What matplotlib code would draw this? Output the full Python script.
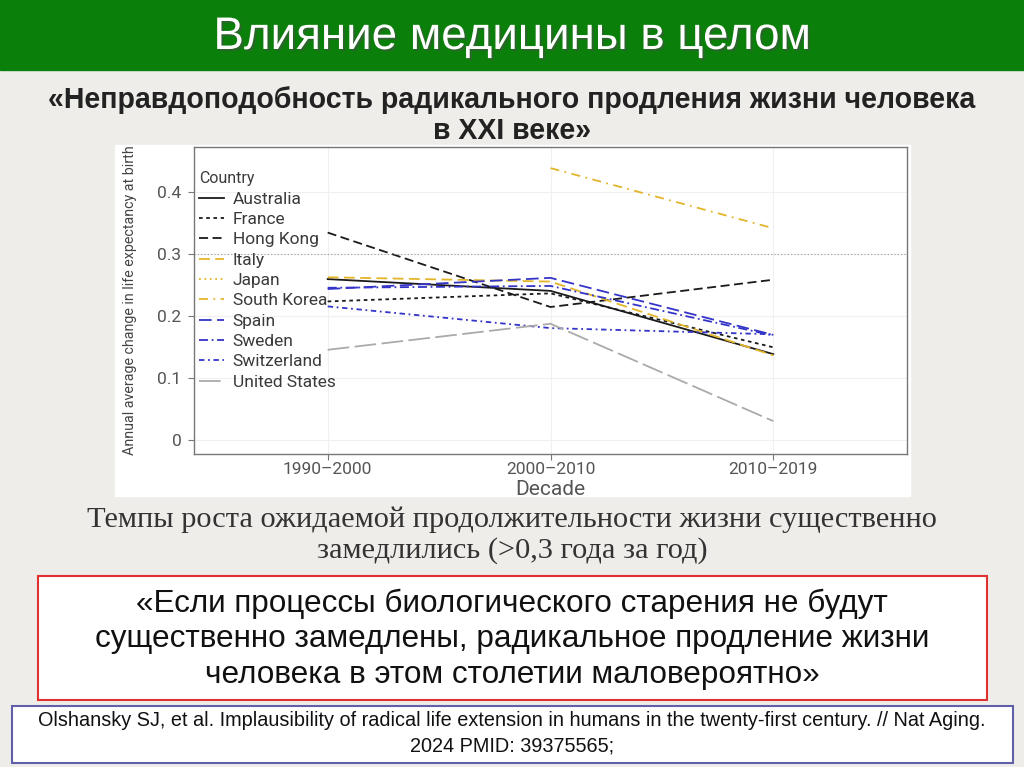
import matplotlib
matplotlib.use("Agg")
import matplotlib.pyplot as plt
import matplotlib.patheffects as pe
from matplotlib.patches import Rectangle
import numpy as np

plt.rcParams['font.family'] = ['Roboto', 'DejaVu Sans']

decades = ["1990–2000", "2000–2010", "2010–2019"]
countries = ["Australia", "France", "Hong Kong", "Italy", "Japan", "South Korea",
             "Spain", "Sweden", "Switzerland", "United States"]

australia = [0.259, 0.240, 0.138]
france = [0.223, 0.236, 0.149]
hong_kong = [0.334, 0.214, 0.258]
italy = [0.262, 0.255, 0.136]
japan = [np.nan, np.nan, np.nan]
south_korea = [np.nan, 0.438, 0.341]
spain = [0.243, 0.261, 0.169]
sweden = [0.245, 0.248, 0.168]
switzerland = [0.215, 0.180, 0.170]
united_states = [0.145, 0.187, 0.030]

series = [australia, france, hong_kong, italy, japan, south_korea,
          spain, sweden, switzerland, united_states]

black = "#1a1a1a"
gold = "#e3b52a"
blue = "#3434c8"
grey = "#aaaaaa"
styles = [
    (black, "-"),
    (black, (0, (2, 2))),
    (black, (0, (5, 2.5))),
    (gold, (0, (6, 3))),
    (gold, (0, (1, 2))),
    (gold, (0, (5, 3, 1, 3))),
    (blue, (0, (7, 3))),
    (blue, (0, (5, 2, 1, 2))),
    (blue, (0, (3, 2, 1, 2))),
    (grey, (0, (12, 3))),
]

W, H = 1024, 767
fig = plt.figure(figsize=(W / 100, H / 100), dpi=100)
fig.patch.set_facecolor("#efedea")
sans = ["Liberation Sans", "DejaVu Sans"]


def px(x0, y0, x1, y1):
    # pixel box (top-left origin) -> figure fraction [l, b, w, h]
    return [x0 / W, 1 - y1 / H, (x1 - x0) / W, (y1 - y0) / H]


def box(x0, y0, x1, y1, **kw):
    l, b, w, h = px(x0, y0, x1, y1)
    fig.patches.append(Rectangle((l, b), w, h, transform=fig.transFigure, zorder=-5, **kw))


def lines(xc, ys, texts, **kw):
    return [fig.text(xc / W, 1 - y / H, t, ha="center", va="center", **kw) for y, t in zip(ys, texts)]


def fit(group, size, dim="width"):
    # scale a block of lines so its widest line is `size` px
    r = fig.canvas.get_renderer()
    widest = max(getattr(t.get_window_extent(r), dim) for t in group)
    for t in group:
        t.set_fontsize(t.get_fontsize() * size / widest)


# green header
box(0, 0, W, 70, color="#0a7f0a")
title = lines(512, [37], ["Влияние медицины в целом"], color="white", fontsize=30, family=sans,
              path_effects=[pe.withSimplePatchShadow(offset=(1.5, -1.5), alpha=0.5)])

subtitle = lines(512, [100, 131], ["«Неправдоподобность радикального продления жизни человека",
                                   "в XXI веке»"],
                 fontsize=20, fontweight="bold", color="#222222", family=sans)

# chart image background
box(115, 145, 910, 496, color="white")

ax = fig.add_axes(px(194, 147, 907, 454))
x = np.arange(len(decades))
for name, vals, (c, ls) in zip(countries, series, styles):
    ax.plot(x, vals, color=c, linestyle=ls, linewidth=1.3, label=name)

ax.axhline(0.3, color="#999999", linestyle=(0, (1, 2)), linewidth=0.8)
ax.set_xlim(-0.6, 2.6)
ax.set_ylim(-0.023, 0.472)
ax.set_xticks(x)
ax.set_xticklabels(decades)
ax.set_yticks([0, 0.1, 0.2, 0.3, 0.4])
ax.set_yticklabels(["0", "0.1", "0.2", "0.3", "0.4"])
ax.grid(True, color="#f0f0f0", linewidth=0.8)
ax.set_axisbelow(True)
for s in ax.spines.values():
    s.set_color("#777777")
    s.set_linewidth(1.0)
ax.tick_params(axis="both", colors="#777777", labelcolor="#555555", labelsize=12.5, length=4)
ax.tick_params(axis="x", pad=2)
ax.tick_params(axis="y", pad=5)
ax.set_xlabel("Decade", fontsize=15, color="#555555", labelpad=2)
ax.set_ylabel("Annual average change in life expectancy at birth", fontsize=11, color="#444444",
              labelpad=15)

leg = ax.legend(loc="upper left", bbox_to_anchor=(-0.008, 0.955), frameon=False, fontsize=12.5,
                title="Country", title_fontsize=11.5, handlelength=1.45, labelspacing=0.3,
                handletextpad=0.5, borderaxespad=0.2, alignment="left")
for t in leg.get_texts():
    t.set_color("#3a3a3a")
leg.get_title().set_color("#3a3a3a")

# caption under the chart
caption = lines(512, [520, 551], ["Темпы роста ожидаемой продолжительности жизни существенно",
                                  "замедлились (>0,3 года за год)"],
                fontsize=19, color="#333333", family=["Liberation Serif", "DejaVu Serif"])

# red quote box
box(38, 576, 987, 700, facecolor="white", edgecolor="#e03030", linewidth=1.5)
quote = lines(512, [604, 639, 675], ["«Если процессы биологического старения не будут",
                                     "существенно замедлены, радикальное продление жизни",
                                     "человека в этом столетии маловероятно»"],
              fontsize=22, color="#111111", family=sans)

# reference box
box(12, 706, 1013, 763, facecolor="white", edgecolor="#6060a8", linewidth=1.5)
ref = lines(512, [721, 746], ["Olshansky SJ, et al. Implausibility of radical life extension in humans in the twenty-first century. // Nat Aging.",
                              "2024 PMID: 39375565;"],
            fontsize=13, color="#111111", family=sans)

fig.canvas.draw()
fit(title, 597)
fit(subtitle, 926)
fit(caption, 853)
fit(quote, 833)
fit(ref, 946)
fit([ax.yaxis.label], 308, "height")

fig.savefig("out.png", dpi=100)
